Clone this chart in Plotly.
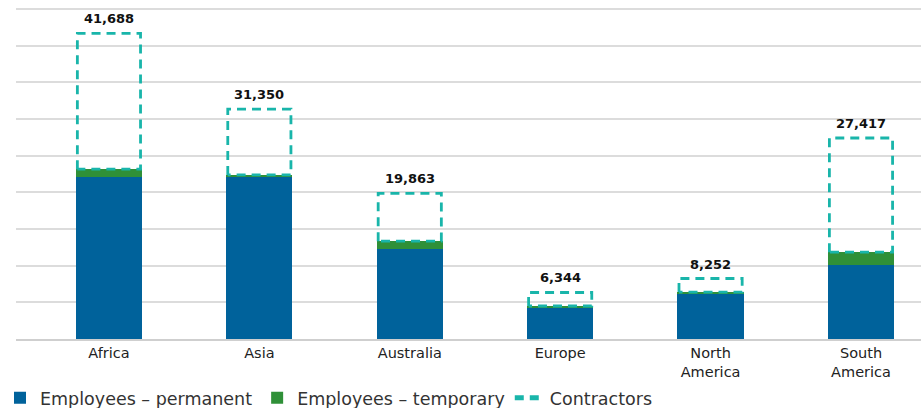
import plotly.graph_objects as go

categories = ["Africa", "Asia", "Australia", "Europe", "North<br>America", "South<br>America"]
permanent = [22100, 22200, 12300, 4260, 6170, 10100]
temporary = [1060, 180, 1050, 240, 230, 1750]
totals = [41688, 31350, 19863, 6344, 8252, 27417]
contractors = [t - p - q for t, p, q in zip(totals, permanent, temporary)]

BLUE = "#00629B"
GREEN = "#2F9038"
TEAL = "#19B5AA"
FONT = "DejaVu Sans"

xs = list(range(len(categories)))
bw = 0.44

fig = go.Figure()
fig.add_trace(go.Bar(x=xs, y=permanent, width=bw, marker=dict(color=BLUE, line=dict(width=0)),
                     name="Employees – permanent"))
fig.add_trace(go.Bar(x=xs, y=temporary, width=bw, marker=dict(color=GREEN, line=dict(width=0)),
                     name="Employees – temporary"))

# dashed outline for contractors
px, py = [], []
for i, (p, q, c) in enumerate(zip(permanent, temporary, contractors)):
    lo = p + q
    hi = lo + c
    x0, x1 = i - bw / 2 + 0.01, i + bw / 2 - 0.01
    px += [x0, x0, x1, x1, x0, None]
    py += [lo, hi, hi, lo, lo, None]
fig.add_trace(go.Scatter(x=px, y=py, mode="lines", name="Contractors",
                         line=dict(color=TEAL, width=2.8, dash="9px,6px"),
                         hoverinfo="skip"))

for i, t in enumerate(totals):
    fig.add_annotation(x=i, y=t, text=f"<b>{t:,}</b>", showarrow=False,
                       xanchor="center", yanchor="bottom", yshift=5,
                       font=dict(family=FONT, size=13, color="#111111"))

fig.update_layout(
    barmode="stack",
    width=921, height=408,
    margin=dict(l=16, r=0, t=8, b=69, autoexpand=False),
    plot_bgcolor="white", paper_bgcolor="white",
    font=dict(family=FONT, size=13, color="#222222"),
    showlegend=True,
    legend=dict(orientation="h", xref="container", yref="container",
                x=-0.004, xanchor="left", y=0.025, yanchor="middle",
                font=dict(family=FONT, size=17.5, color="#333333"),
                itemwidth=30, traceorder="normal", itemsizing="constant"),
    bargap=0,
)
fig.update_xaxes(tickmode="array", tickvals=xs, ticktext=categories,
                 range=[-0.618, 5.399], showgrid=False, zeroline=False,
                 showline=True, linecolor="#cfcfcf", linewidth=2, automargin=False,
                 ticks="", tickfont=dict(family=FONT, size=14.5, color="#222222"))
fig.update_yaxes(range=[0, 45150], dtick=5000, showgrid=True, gridcolor="#dcdcdc", gridwidth=1.5,
                 showticklabels=False, zeroline=False, showline=False, automargin=False)

fig.write_html("out.html", config={"displayModeBar": False},
               post_script="document.body.style.margin='0';document.body.style.overflow='hidden';")
